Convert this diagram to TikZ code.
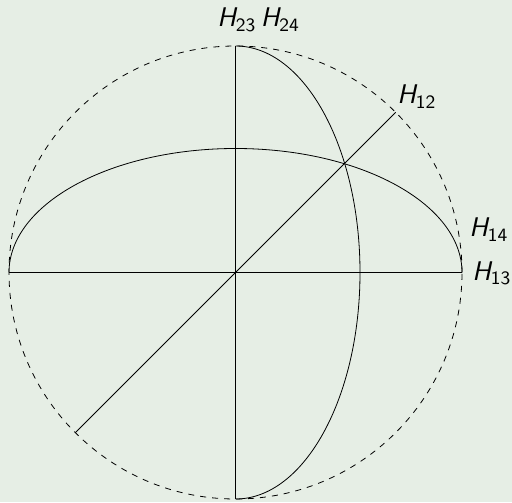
\documentclass[tikz,border=0pt]{standalone}
\definecolor{bgpanel}{RGB}{230,238,229}
\newcommand{\hlab}[1]{{\sffamily\itshape H}\textsubscript{\sffamily #1}}
\begin{document}
\begin{tikzpicture}[x=0.5pt,y=0.5pt,font=\fontsize{13.5}{16}\selectfont]
\fill[bgpanel] (-235.5,-229.5) rectangle (276.5,272.5);
\useasboundingbox (-235.5,-229.5) rectangle (276.5,272.5);

\draw[dashed] (0,0) circle (226.5);
\draw (-226.5,0) -- (226.5,0);
\draw (0,-226.5) -- (0,226.5);
\draw (-160.2,-160.2) -- (160.2,160.2);

\draw (-226.5,0) arc[start angle=180,end angle=0,x radius=226.5,y radius=124];
\draw (0,226.5) arc[start angle=90,end angle=-90,x radius=124.5,y radius=226.5];

\node[anchor=base west,inner sep=0pt] (h2324) at (-18.5,245.5) {\hlab{23}\,\hlab{24}};
\node[anchor=base west,inner sep=0pt] (h12) at (161.5,168.5) {\hlab{12}};
\node[anchor=base west,inner sep=0pt] (h14) at (233.5,35.5) {\hlab{14}};
\node[anchor=base west,inner sep=0pt] (h13) at (236.5,-8) {\hlab{13}};
\end{tikzpicture}
\end{document}
